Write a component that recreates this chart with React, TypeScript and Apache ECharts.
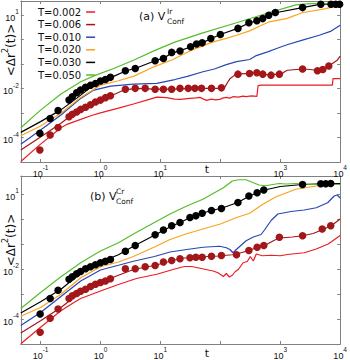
import React, { useEffect, useRef } from 'react';
import * as echarts from 'echarts';

// Every point is [log10 t, log10 <Δr²(t)>].
type P = [number, number];

const temps = ['T=0.002', 'T=0.006', 'T=0.010', 'T=0.020', 'T=0.030', 'T=0.050'];
const colors = ['#ec1c24', '#a3161a', '#2747b3', '#fba31c', '#000000', '#55bd2a'];

const xTickExps = [-1, 0, 1, 3, 4];
const yTickExps = [1, -2, -4];

// ---------- panel (a) ----------
const a002: P[] = [[-1.33,-4.98],[-1.0,-4.27],[-0.66,-3.6],[-0.55,-3.45],[-0.33,-3.26],[-0.15,-3.1],[0,-2.99],[0.3,-2.8],[0.55,-2.63],[0.8,-2.45],[0.94,-2.35],[1.1,-2.37],[1.24,-2.43],[1.33,-2.44],[1.49,-2.4],[1.6,-2.38],[1.66,-2.36],[1.71,-2.42],[1.77,-2.48],[1.85,-2.43],[1.92,-2.46],[1.99,-2.44],[2.05,-2.38],[2.1,-2.36],[2.16,-2.39],[2.21,-2.33],[2.3,-2.35],[2.38,-2.31],[2.43,-2.33],[2.52,-2.3],[2.61,-2.32],[2.63,-1.88],[2.68,-1.86],[3.1,-1.86],[3.5,-1.86],[3.87,-1.86],[3.88,-1.59],[4.0,-1.59]];
const a006: P[] = [[-1.33,-4.51],[-1.0,-3.98],[-0.66,-3.42],[-0.5,-3.12],[-0.33,-2.88],[-0.15,-2.65],[0,-2.47],[0.17,-2.3],[0.4,-2.05],[0.6,-1.99],[0.9,-2.02],[1.24,-2.02],[1.5,-1.99],[1.8,-1.99],[1.99,-1.99],[2.07,-1.96],[2.12,-1.75],[2.16,-1.6],[2.24,-1.45],[2.35,-1.4],[2.49,-1.38],[2.6,-1.36],[2.71,-1.41],[2.82,-1.45],[2.9,-1.42],[2.985,-1.41],[3.05,-1.36],[3.07,-1.31],[3.12,-1.25],[3.37,-1.2],[3.5,-1.22],[3.59,-1.25],[3.68,-1.28],[3.76,-1.18],[3.81,-1.08],[3.87,-0.97],[3.95,-0.84],[4.0,-0.67]];
const a010: P[] = [[-1.33,-4.27],[-1.0,-3.69],[-0.66,-3.08],[-0.33,-2.4],[-0.11,-2.06],[0.17,-1.9],[0.55,-1.82],[0.94,-1.79],[1.24,-1.63],[1.45,-1.5],[1.71,-1.31],[1.9,-1.2],[2.1,-1.02],[2.27,-0.9],[2.49,-0.81],[2.6,-0.65],[2.79,-0.5],[2.95,-0.35],[3.1,-0.22],[3.37,-0.02],[3.65,0.18],[3.85,0.35],[4.0,0.59]];
const a020: P[] = [[-1.33,-3.93],[-1.0,-3.53],[-0.66,-3.01],[-0.33,-2.36],[0,-1.86],[0.3,-1.68],[0.55,-1.5],[0.9,-1.1],[1.2,-0.82],[1.5,-0.45],[1.88,-0.09],[2.1,0.05],[2.27,0.18],[2.49,0.36],[2.65,0.55],[2.82,0.73],[3.1,0.86],[3.37,1.1],[3.76,1.27],[4.0,1.41]];
const a030: P[] = [[-1.33,-3.79],[-1.0,-3.35],[-0.66,-2.87],[-0.4,-2.4],[-0.2,-2.02],[0,-1.7],[0.2,-1.52],[0.42,-1.28],[0.6,-1.16],[0.9,-0.87],[1.05,-0.76],[1.19,-0.55],[1.33,-0.45],[1.5,-0.3],[1.6,-0.19],[1.7,-0.13],[1.84,0.04],[2.0,0.21],[2.29,0.46],[2.48,0.68],[2.61,0.77],[2.71,0.86],[2.81,1.0],[2.92,1.1],[3.37,1.31],[3.68,1.45],[4.0,1.45]];
const a050: P[] = [[-1.33,-3.6],[-1.0,-2.88],[-0.66,-2.22],[-0.33,-1.72],[-0.1,-1.47],[0.2,-1.2],[0.55,-0.84],[0.9,-0.45],[1.24,-0.1],[1.71,0.28],[2.27,0.69],[2.82,1.11],[3.26,1.42],[3.5,1.47],[4.0,1.48]];
const aDots030: P[] = [[-1.012,-3.83],[-0.84,-3.22],[-0.708,-2.9],[-0.525,-2.47],[-0.47,-2.33],[-0.398,-2.17],[-0.332,-2.06],[-0.249,-1.95],[-0.166,-1.86],[-0.083,-1.79],[0,-1.69],[0.083,-1.63],[0.166,-1.54],[0.415,-1.27],[0.58,-1.18],[0.912,-0.86],[1.05,-0.77],[1.188,-0.52],[1.327,-0.46],[1.504,-0.29],[1.603,-0.18],[1.697,-0.13],[1.841,0.05],[2.001,0.21],[2.294,0.46],[2.476,0.69],[2.609,0.77],[2.708,0.86],[2.808,1.0],[2.918,1.11],[3.372,1.31],[3.676,1.45],[3.847,1.45],[3.925,1.45],[3.99,1.45]];
const aDots006: P[] = [[-1.012,-4.51],[-0.84,-3.9],[-0.708,-3.59],[-0.525,-3.15],[-0.47,-3.05],[-0.398,-2.96],[-0.332,-2.85],[-0.249,-2.76],[-0.166,-2.66],[-0.083,-2.55],[0,-2.47],[0.083,-2.37],[0.166,-2.29],[0.415,-2.03],[0.58,-1.99],[0.746,-1.99],[0.912,-2.03],[1.05,-2.03],[1.188,-2.03],[1.327,-1.99],[1.465,-1.99],[1.575,-1.99],[1.686,-1.99],[1.852,-1.99],[2.018,-1.97],[2.294,-1.41],[2.487,-1.38],[2.609,-1.35],[2.708,-1.41],[2.846,-1.45],[2.985,-1.41],[3.372,-1.2],[3.62,-1.27],[3.71,-1.22],[3.81,-1.08]];

// ---------- panel (b) ----------
const b002: P[] = [[-1.33,-4.99],[-1.0,-4.33],[-0.66,-3.67],[-0.45,-3.35],[-0.33,-3.18],[0,-2.88],[0.3,-2.62],[0.6,-2.38],[0.94,-2.21],[1.24,-2.0],[1.4,-1.9],[1.52,-1.9],[1.72,-2.0],[1.88,-2.08],[1.96,-2.15],[2.05,-2.3],[2.1,-2.18],[2.15,-2.32],[2.2,-2.25],[2.25,-2.1],[2.3,-2.02],[2.38,-1.75],[2.45,-1.7],[2.5,-1.5],[2.55,-1.68],[2.6,-1.4],[2.7,-1.47],[2.85,-1.45],[3.0,-1.47],[3.12,-1.42],[3.4,-1.35],[3.6,-1.2],[3.8,-1.0],[4.0,-0.66]];
const b006: P[] = [[-1.33,-4.56],[-1.0,-4.07],[-0.66,-3.54],[-0.33,-2.92],[0,-2.54],[0.3,-2.25],[0.55,-2.02],[0.9,-1.86],[1.24,-1.64],[1.4,-1.56],[1.6,-1.53],[1.85,-1.49],[2.0,-1.48],[2.1,-1.45],[2.2,-1.43],[2.3,-1.38],[2.45,-1.28],[2.6,-1.15],[2.75,-1.05],[2.9,-0.85],[3.0,-0.76],[3.2,-0.72],[3.37,-0.67],[3.55,-0.58],[3.7,-0.43],[3.85,-0.27],[4.0,0.0]];
const b010: P[] = [[-1.33,-4.26],[-1.0,-3.74],[-0.66,-3.1],[-0.33,-2.48],[0,-2.04],[0.3,-1.85],[0.55,-1.69],[0.9,-1.5],[1.16,-1.32],[1.44,-1.22],[1.71,-1.13],[1.99,-1.09],[2.1,-1.15],[2.16,-1.22],[2.21,-1.35],[2.29,-1.17],[2.43,-0.87],[2.55,-0.72],[2.68,-0.62],[2.74,-0.43],[2.85,-0.05],[2.96,0.2],[3.18,0.3],[3.4,0.36],[3.6,0.45],[3.79,0.65],[3.9,0.92],[3.95,0.96],[4.0,0.84]];
const b020: P[] = [[-1.33,-3.89],[-1.0,-3.54],[-0.66,-3.01],[-0.33,-2.35],[0,-1.91],[0.3,-1.72],[0.55,-1.5],[0.9,-1.12],[1.16,-0.82],[1.45,-0.58],[1.71,-0.4],[2.0,-0.2],[2.27,0.06],[2.49,0.23],[2.71,0.59],[2.93,0.89],[3.26,1.19],[3.65,1.34],[4.0,1.42]];
const b030: P[] = [[-1.33,-3.76],[-1.0,-3.31],[-0.66,-2.81],[-0.33,-2.17],[0,-1.72],[0.3,-1.43],[0.55,-1.09],[0.9,-0.65],[1.19,-0.28],[1.33,-0.14],[1.49,0.05],[1.7,0.23],[1.85,0.34],[2.02,0.43],[2.29,0.66],[2.48,0.91],[2.61,1.05],[2.72,1.15],[3.0,1.3],[3.37,1.38],[3.7,1.41],[4.0,1.42]];
const b050: P[] = [[-1.33,-3.58],[-1.0,-2.94],[-0.66,-2.31],[-0.33,-1.75],[-0.1,-1.42],[0,-1.28],[0.3,-0.95],[0.55,-0.6],[0.9,-0.14],[1.16,0.2],[1.44,0.52],[1.71,0.79],[2.05,1.25],[2.2,1.52],[2.3,1.57],[2.43,1.57],[2.55,1.45],[2.65,1.36],[2.75,1.33],[2.98,1.42],[3.1,1.4],[3.26,1.42],[3.54,1.38],[4.0,1.38]];
const bDots030: P[] = [[-1.007,-3.8],[-0.84,-3.18],[-0.708,-2.85],[-0.525,-2.41],[-0.47,-2.31],[-0.398,-2.19],[-0.332,-2.1],[-0.249,-1.99],[-0.166,-1.91],[-0.083,-1.83],[0,-1.75],[0.083,-1.69],[0.166,-1.62],[0.415,-1.29],[0.58,-1.06],[0.912,-0.63],[1.05,-0.44],[1.188,-0.27],[1.327,-0.14],[1.493,0.06],[1.592,0.13],[1.697,0.23],[1.852,0.34],[2.018,0.42],[2.294,0.66],[2.476,0.92],[2.614,1.05],[2.725,1.16],[3.372,1.38],[3.676,1.41],[3.759,1.41],[3.842,1.42]];
const bDots006: P[] = [[-1.007,-4.53],[-0.84,-3.97],[-0.708,-3.6],[-0.525,-3.18],[-0.47,-3.07],[-0.398,-2.98],[-0.332,-2.89],[-0.249,-2.81],[-0.166,-2.7],[-0.083,-2.61],[0,-2.54],[0.083,-2.48],[0.166,-2.39],[0.415,-1.99],[0.58,-1.99],[0.746,-1.91],[0.912,-1.86],[1.05,-1.72],[1.188,-1.66],[1.327,-1.59],[1.493,-1.55],[1.592,-1.53],[1.697,-1.53],[1.852,-1.49],[2.018,-1.46],[2.27,-1.43],[2.476,-1.26],[2.614,-1.13],[2.725,-1.06],[2.985,-0.73],[3.372,-0.67],[3.7,-0.4],[3.842,-0.27]];

const panelLines: P[][][] = [
  [a002, a006, a010, a020, a030, a050],
  [b002, b006, b010, b020, b030, b050],
];
const panelDots: P[][][] = [
  [aDots030, aDots006],
  [bDots030, bDots006],
];
const dotColors = ['#000000', '#a3161a'];

// axis extents (log10)
const xMinExp = -1.33;
const xMaxExp = 4;
const yMinExp = -5;
const yMaxExps = [1.58, 1.72];

const toXY = (arr: P[]) => arr.map(([lt, lv]) => [Math.pow(10, lt), Math.pow(10, lv)]);

const expLabel = (show: number[]) => (v: number) => {
  const l = Math.log10(v);
  const e = Math.round(l);
  if (Math.abs(l - e) > 0.01 || !show.includes(e)) return '';
  return `{b|10}{s|${e}}`;
};

const labelRich = {
  b: { fontSize: 9, fontFamily: 'Liberation Sans, Arial, sans-serif', color: '#111', lineHeight: 14, verticalAlign: 'bottom' },
  s: { fontSize: 6.5, fontFamily: 'Liberation Sans, Arial, sans-serif', color: '#111', lineHeight: 14, verticalAlign: 'top' },
};

const AXIS_COLOR = '#808080';

export default function App() {
  const ref = useRef<HTMLDivElement>(null);
  useEffect(() => {
    if (!ref.current) return;
    const chart = echarts.init(ref.current, undefined, { renderer: 'svg' });
    const grids = [
      { left: 20, top: 1, width: 321, height: 161 },
      { left: 20, top: 176, width: 321, height: 169 },
    ];
    const xAxes: any[] = [];
    const yAxes: any[] = [];
    for (let p = 0; p < 2; p++) {
      for (const pos of ['bottom', 'top']) {
        xAxes.push({
          type: 'log', logBase: 10, gridIndex: p, position: pos,
          min: Math.pow(10, xMinExp), max: Math.pow(10, xMaxExp),
          axisLine: { show: true, lineStyle: { color: AXIS_COLOR, width: 1 } },
          axisTick: { show: true, inside: true, length: 3, lineStyle: { color: AXIS_COLOR } },
          minorTick: { show: false }, splitLine: { show: false },
          axisLabel: pos === 'bottom'
            ? { show: true, margin: 2, formatter: expLabel(xTickExps), rich: labelRich, showMinLabel: true, showMaxLabel: true }
            : { show: false },
        });
      }
      for (const pos of ['left', 'right']) {
        yAxes.push({
          type: 'log', logBase: 10, gridIndex: p, position: pos,
          min: Math.pow(10, yMinExp), max: Math.pow(10, yMaxExps[p]),
          axisLine: { show: true, lineStyle: { color: AXIS_COLOR, width: 1 } },
          axisTick: { show: true, inside: true, length: 3, lineStyle: { color: AXIS_COLOR } },
          minorTick: { show: false }, splitLine: { show: false },
          axisLabel: pos === 'left'
            ? { show: true, margin: 2, formatter: expLabel(yTickExps), rich: labelRich }
            : { show: false },
        });
      }
    }
    const series: any[] = [];
    for (let p = 0; p < 2; p++) {
      panelLines[p].forEach((arr, i) => {
        series.push({
          type: 'line', name: temps[i], xAxisIndex: p * 2, yAxisIndex: p * 2,
          data: toXY(arr), symbol: 'none', showSymbol: false,
          lineStyle: { width: 1.2, color: colors[i] }, itemStyle: { color: colors[i] }, z: 2,
        });
      });
      panelDots[p].forEach((arr, j) => {
        series.push({
          type: 'scatter', name: `dots-${p}-${j}`, xAxisIndex: p * 2, yAxisIndex: p * 2,
          data: toXY(arr), symbol: 'circle', symbolSize: 7.5,
          itemStyle: { color: dotColors[j], opacity: 1 }, z: 3,
        });
      });
    }
    const titleFont = 'DejaVu Sans, sans-serif';
    const yTitle = (y: number) => ({
      type: 'text', x: 9, y, rotation: Math.PI / 2,
      style: {
        text: '{m|<Δr}{s|2}{m|(t)>}',
        align: 'center', verticalAlign: 'middle',
        rich: {
          m: { fontSize: 12, fontFamily: titleFont, fill: '#111', lineHeight: 16, verticalAlign: 'bottom' },
          s: { fontSize: 8, fontFamily: titleFont, fill: '#111', lineHeight: 16, verticalAlign: 'top' },
        },
      },
    });
    const txt = (x: number, y: number, text: string, size: number, align = 'left') => ({
      type: 'text', x, y,
      style: { text, fontSize: size, fontFamily: titleFont, fill: '#111', align, verticalAlign: 'middle' },
    });
    chart.setOption({
      animation: false,
      backgroundColor: '#ffffff',
      grid: grids,
      xAxis: xAxes,
      yAxis: yAxes,
      legend: {
        data: temps.map((n) => ({ name: n, icon: 'rect' })),
        orient: 'vertical', left: 33, top: 2, align: 'right',
        itemWidth: 9, itemHeight: 1.5, itemGap: 2.6,
        selectedMode: false,
        textStyle: { fontSize: 10, fontFamily: titleFont, color: '#111', lineHeight: 10 },
      },
      series,
      graphic: [
        yTitle(50),
        yTitle(240),
        txt(207, 169, 't', 11, 'center'),
        txt(207, 353, 't', 11, 'center'),
        txt(139, 16, '(a) V', 11),
        txt(167, 11, 'Ir', 7.5),
        txt(167, 21, 'Conf', 7.5),
        txt(90, 196, '(b) V', 11),
        txt(116, 191, 'Cr', 7.5),
        txt(116, 201, 'Conf', 7.5),
      ],
    });
    return () => chart.dispose();
  }, []);
  return (
    <div
      ref={ref}
      style={{ position: 'absolute', left: 0, top: 0, width: 350, height: 360, background: '#fff' }}
    />
  );
}
